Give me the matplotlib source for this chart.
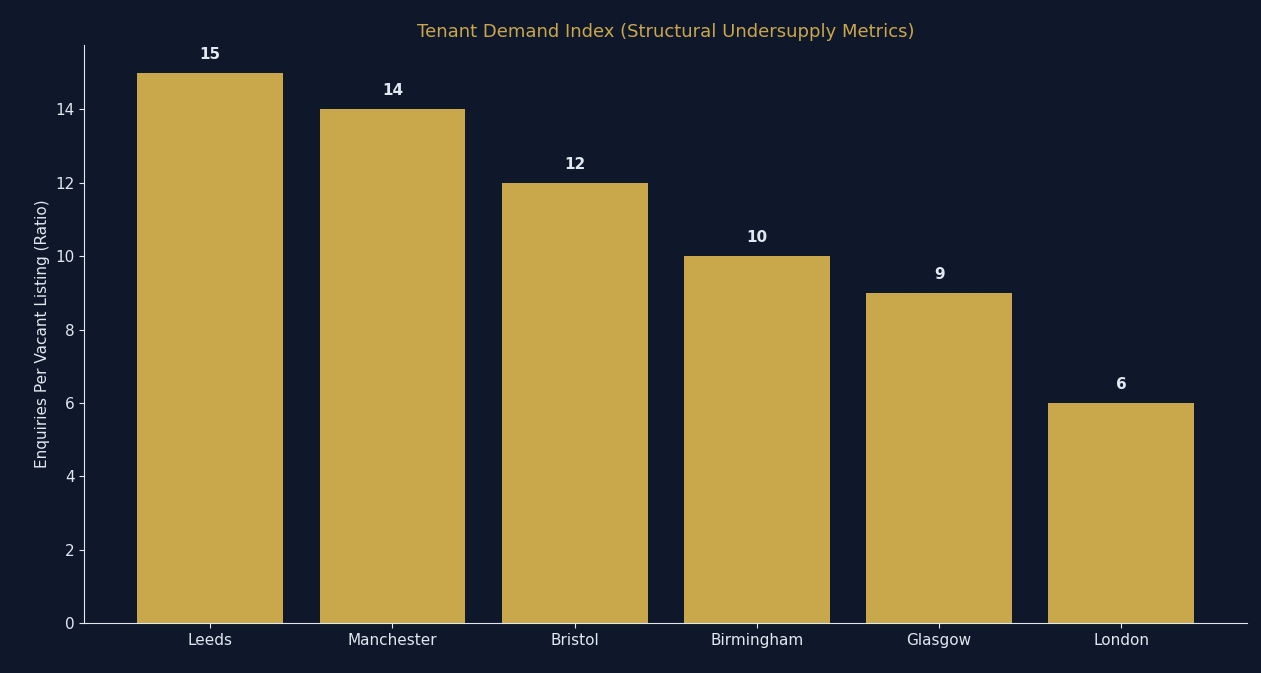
import matplotlib
matplotlib.use("Agg")
import matplotlib.pyplot as plt

cities = ["Leeds", "Manchester", "Bristol", "Birmingham", "Glasgow", "London"]
ratios = [15, 14, 12, 10, 9, 6]

BG = "#0f172a"
GOLD = "#c9a84c"
LIGHT = "#e2e8f0"

fig, ax = plt.subplots(figsize=(12.61, 6.73), dpi=100)
fig.patch.set_facecolor(BG)
ax.set_facecolor(BG)

bars = ax.bar(cities, ratios, color=GOLD, width=0.8)
for b, v in zip(bars, ratios):
    ax.text(b.get_x() + b.get_width() / 2, v + 0.3, str(v), ha="center", va="bottom",
            color=LIGHT, fontsize=11, fontweight="bold")

ax.set_ylim(0, 15.75)
ax.set_title("Tenant Demand Index (Structural Undersupply Metrics)", color=GOLD, fontsize=13)
ax.set_ylabel("Enquiries Per Vacant Listing (Ratio)", color=LIGHT, fontsize=11)
ax.tick_params(colors=LIGHT, labelsize=11)
for s in ["top", "right"]:
    ax.spines[s].set_visible(False)
for s in ["left", "bottom"]:
    ax.spines[s].set_color(LIGHT)

plt.subplots_adjust(left=0.067, right=0.989, top=0.933, bottom=0.074)
fig.savefig("out.png", facecolor=BG)
